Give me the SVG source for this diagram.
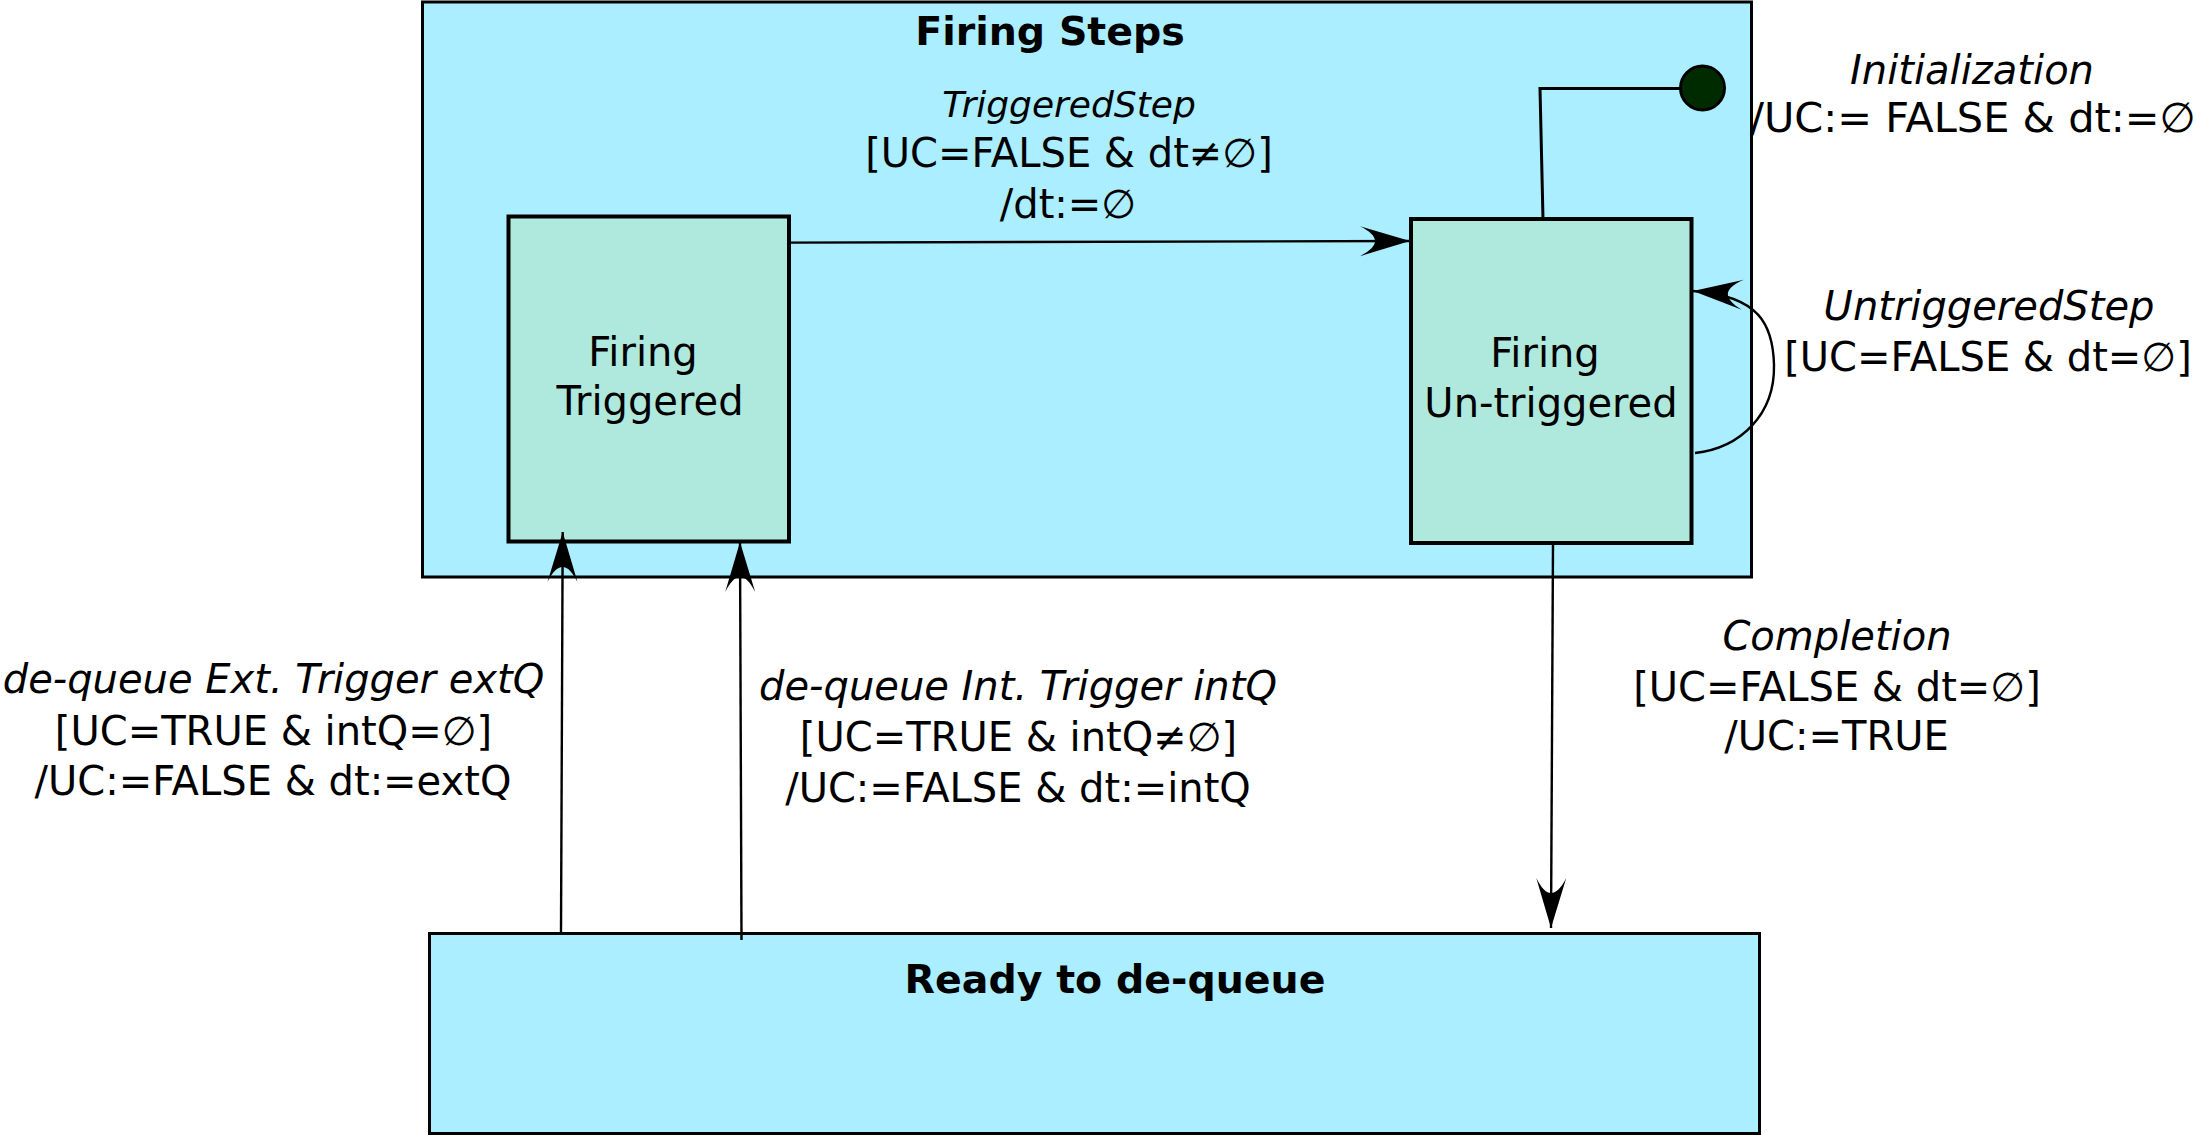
<svg xmlns="http://www.w3.org/2000/svg" width="2194" height="1136" viewBox="0 0 2194 1136">
<defs>
<style>
.outer{fill:#aaeeff;stroke:#000;stroke-width:3}
.state{fill:#afe9dd;stroke:#000;stroke-width:4}
.t{font-family:"DejaVu Sans","Liberation Sans",sans-serif;font-size:40px;fill:#000;text-anchor:middle}
.i{font-style:italic}
.b{font-weight:bold;font-size:39.5px}
.c{fill:none;stroke:#000;stroke-width:2.4}
</style>
<marker id="arr" markerUnits="userSpaceOnUse" orient="auto" refX="0" refY="0" markerWidth="60" markerHeight="40" overflow="visible">
<path d="M0,0 L-50,-15 C-30,-5 -30,5 -50,15 Z" fill="#000"/>
</marker>
</defs>
<rect width="2194" height="1136" fill="#fff"/>

<g id="firing-steps">
<rect class="outer" x="422.5" y="2" width="1329" height="575"/>
<text class="t b" x="1050" y="45">Firing Steps</text>
</g>

<g id="ready">
<rect class="outer" x="429.5" y="933.5" width="1330" height="200"/>
<text class="t b" x="1115" y="993">Ready to de-queue</text>
</g>

<g id="firing-triggered">
<rect class="state" x="508.5" y="216.5" width="280.5" height="325"/>
<text class="t" x="643" y="365.5">Firing</text>
<text class="t" x="650" y="415">Triggered</text>
</g>

<g id="firing-untriggered">
<rect class="state" x="1411" y="219" width="280.5" height="324"/>
<text class="t" x="1545" y="367">Firing</text>
<text class="t" x="1551" y="417">Un-triggered</text>
</g>

<g id="initial">
<circle cx="1702.5" cy="88" r="22" fill="#002b00" stroke="#000" stroke-width="3"/>
</g>

<g id="connectors">
<path class="c" style="stroke-width:3" d="M1680.5,88.5 L1540,88.5 L1543,219"/>
<path class="c" d="M789,242.6 L1410,241" marker-end="url(#arr)"/>
<path class="c" d="M1695,453 C1740,448 1775,415 1774,365 C1773,325 1760,296 1693,291" marker-end="url(#arr)"/>
<path class="c" d="M561,933 L562.7,532" marker-end="url(#arr)"/>
<path class="c" d="M741.5,940 L740,542" marker-end="url(#arr)"/>
<path class="c" d="M1553,543 L1551,928" marker-end="url(#arr)"/>
</g>

<g id="labels">
<text class="t i" style="font-size:36px" x="1069" y="116.5">TriggeredStep</text>
<text class="t" x="1069" y="167">[UC=FALSE &amp; dt≠∅]</text>
<text class="t" x="1068" y="218">/dt:=∅</text>

<text class="t i" x="1972" y="83.5">Initialization</text>
<text class="t" style="font-size:41.5px;text-anchor:start" x="1750" y="132">/UC:= FALSE &amp; dt:=∅</text>

<text class="t i" x="1989" y="319.5">UntriggeredStep</text>
<text class="t" x="1988" y="370.5">[UC=FALSE &amp; dt=∅]</text>

<text class="t i" x="1837" y="650">Completion</text>
<text class="t" x="1837" y="700.5">[UC=FALSE &amp; dt=∅]</text>
<text class="t" x="1836.5" y="750">/UC:=TRUE</text>

<text class="t i" x="273.5" y="693">de-queue Ext. Trigger extQ</text>
<text class="t" x="273.5" y="745">[UC=TRUE &amp; intQ=∅]</text>
<text class="t" x="273" y="794.5">/UC:=FALSE &amp; dt:=extQ</text>

<text class="t i" x="1018" y="700">de-queue Int. Trigger intQ</text>
<text class="t" x="1018.5" y="751">[UC=TRUE &amp; intQ≠∅]</text>
<text class="t" x="1018" y="802">/UC:=FALSE &amp; dt:=intQ</text>
</g>
</svg>
